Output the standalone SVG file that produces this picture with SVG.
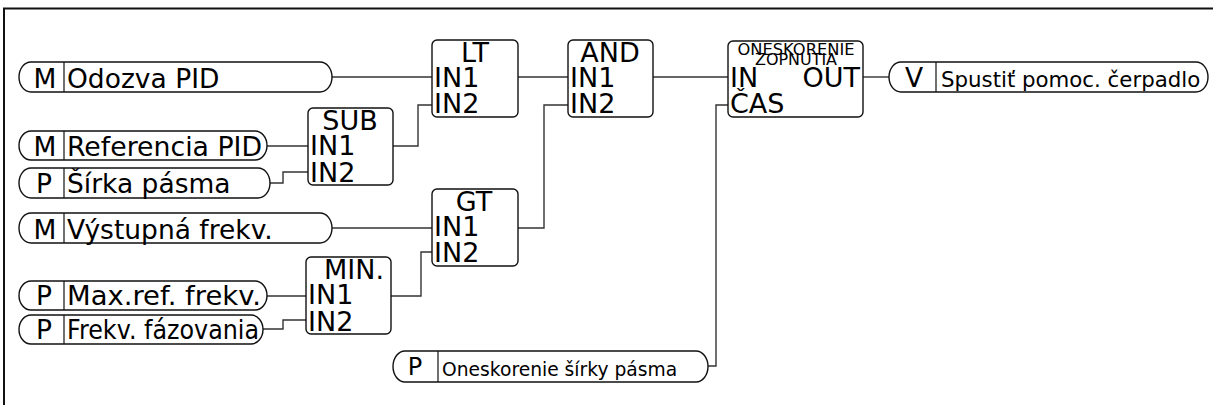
<svg xmlns="http://www.w3.org/2000/svg" width="1213" height="405" viewBox="0 0 1213 405">
<style>
.frame{fill:none;stroke:#111;stroke-width:2}
.pill{fill:#fff;stroke:#111;stroke-width:1.4}
.blk{fill:#fff;stroke:#111;stroke-width:1.4}
.div{stroke:#111;stroke-width:1.2}
.wire{fill:none;stroke:#333;stroke-width:1.4}
text{font-family:"DejaVu Sans","Liberation Sans",sans-serif;fill:#000}
.lt{font-size:26.5px}
.bt{font-size:27px}
.mid{text-anchor:middle}
.end{text-anchor:end}
.sm{font-size:15px}
</style>
<path class="frame" d="M4,405 V8.5 H1213"/>
<g id="connectors">
<path class="wire" d="M332,77 H432"/>
<path class="wire" d="M267,146 H308"/>
<path class="wire" d="M270,183 H283 V172 H308"/>
<path class="wire" d="M393,146 H418 V105 H432"/>
<path class="wire" d="M332,228 H432"/>
<path class="wire" d="M267,296 H306"/>
<path class="wire" d="M263,329 H283 V320 H306"/>
<path class="wire" d="M391,296 H421 V252 H432"/>
<path class="wire" d="M518,77 H568"/>
<path class="wire" d="M518,228 H544 V105 H568"/>
<path class="wire" d="M653,77 H728"/>
<path class="wire" d="M708,366 H716 V105 H728"/>
<path class="wire" d="M863,77 H889"/>
</g>
<g id="in-odozva">
<rect class="pill" x="19" y="62" width="313" height="30" rx="12" ry="15"/>
<line class="div" x1="64" y1="62" x2="64" y2="92"/>
<text class="lt mid" x="45" y="88">M</text>
<text class="lt" x="67" y="88">Odozva PID</text>
</g>
<g id="in-referencia">
<rect class="pill" x="19" y="131" width="248" height="29" rx="12" ry="14.5"/>
<line class="div" x1="64" y1="131" x2="64" y2="160"/>
<text class="lt mid" x="45" y="156">M</text>
<text class="lt" x="67" y="156" textLength="195" lengthAdjust="spacingAndGlyphs">Referencia PID</text>
</g>
<g id="in-sirka">
<rect class="pill" x="19" y="168" width="251" height="30" rx="12" ry="15"/>
<line class="div" x1="64" y1="168" x2="64" y2="198"/>
<text class="lt mid" x="44" y="193">P</text>
<text class="lt" x="67" y="193">Šírka pásma</text>
</g>
<g id="in-vystupna">
<rect class="pill" x="19" y="213" width="313" height="30" rx="12" ry="15"/>
<line class="div" x1="64" y1="213" x2="64" y2="243"/>
<text class="lt mid" x="45" y="239">M</text>
<text class="lt" x="67" y="239">Výstupná frekv.</text>
</g>
<g id="in-maxref">
<rect class="pill" x="19" y="281" width="248" height="29" rx="12" ry="14.5"/>
<line class="div" x1="64" y1="281" x2="64" y2="310"/>
<text class="lt mid" x="44" y="305">P</text>
<text class="lt" x="67" y="305" textLength="194" lengthAdjust="spacingAndGlyphs">Max.ref. frekv.</text>
</g>
<g id="in-frekvfaz">
<rect class="pill" x="19" y="315" width="244" height="29" rx="12" ry="14.5"/>
<line class="div" x1="64" y1="315" x2="64" y2="344"/>
<text class="lt mid" x="44" y="339">P</text>
<text class="lt" x="67" y="339" textLength="192" lengthAdjust="spacingAndGlyphs">Frekv. fázovania</text>
</g>
<g id="in-oneskorenie">
<rect class="pill" x="393" y="351" width="315" height="31" rx="12" ry="15.5"/>
<line class="div" x1="438" y1="351" x2="438" y2="382"/>
<text class="mid" x="415" y="375" style="font-size:24px">P</text>
<text x="442" y="376" style="font-size:18.7px">Oneskorenie šírky pásma</text>
</g>
<g id="out-spustit">
<rect class="pill" x="889" y="62" width="319" height="30" rx="12" ry="15"/>
<line class="div" x1="936" y1="62" x2="936" y2="92"/>
<text class="lt mid" x="914" y="87">V</text>
<text x="941" y="87" style="font-size:21.3px">Spustiť pomoc. čerpadlo</text>
</g>
<g id="blk-sub">
<rect class="blk" x="308" y="108" width="85" height="77" rx="5"/>
<text class="bt mid" x="350" y="130">SUB</text>
<text class="bt" x="310" y="155">IN1</text>
<text class="bt" x="310" y="182">IN2</text>
</g>
<g id="blk-min">
<rect class="blk" x="306" y="257" width="85" height="77" rx="5"/>
<text class="bt mid" x="354" y="279">MIN.</text>
<text class="bt" x="308" y="304">IN1</text>
<text class="bt" x="308" y="331">IN2</text>
</g>
<g id="blk-lt">
<rect class="blk" x="432" y="40" width="86" height="77" rx="5"/>
<text class="bt mid" x="475" y="62">LT</text>
<text class="bt" x="434" y="87">IN1</text>
<text class="bt" x="434" y="113">IN2</text>
</g>
<g id="blk-gt">
<rect class="blk" x="432" y="189" width="86" height="77" rx="5"/>
<text class="bt mid" x="474" y="211">GT</text>
<text class="bt" x="434" y="236">IN1</text>
<text class="bt" x="434" y="262">IN2</text>
</g>
<g id="blk-and">
<rect class="blk" x="568" y="40" width="85" height="77" rx="5"/>
<text class="bt mid" x="610" y="62">AND</text>
<text class="bt" x="570" y="87">IN1</text>
<text class="bt" x="570" y="113">IN2</text>
</g>
<g id="blk-oneskorenie">
<rect class="blk" x="728" y="41" width="135" height="76" rx="5"/>
<text class="sm mid" x="796" y="55" textLength="117" lengthAdjust="spacingAndGlyphs">ONESKORENIE</text>
<text class="sm mid" x="796" y="65" textLength="82" lengthAdjust="spacingAndGlyphs">ZOPNUTIA</text>
<text class="bt" x="730" y="87">IN</text>
<text class="bt end" x="860" y="87">OUT</text>
<text class="bt" x="730" y="113">ČAS</text>
</g>
</svg>
